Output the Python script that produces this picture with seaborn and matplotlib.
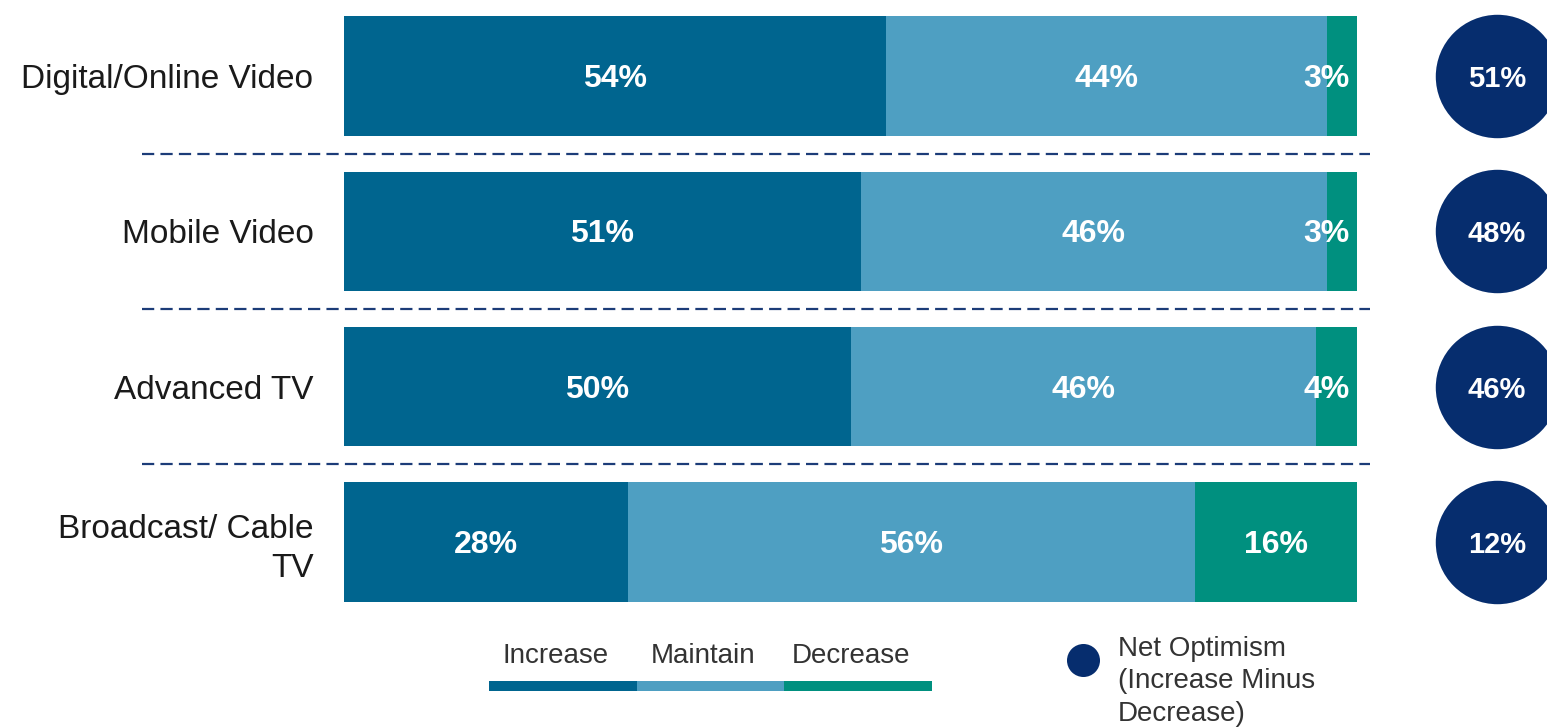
import numpy as np
import pandas as pd
import seaborn as sns
import matplotlib.pyplot as plt

sns.set_style("white")
plt.rcParams["font.family"] = ["Liberation Sans", "DejaVu Sans"]

# data
categories = ["Digital/Online Video", "Mobile Video", "Advanced TV", "Broadcast/ Cable\nTV"]
increase = [54, 51, 50, 28]
maintain = [44, 46, 46, 56]
decrease = [3, 3, 4, 16]
series_names = ["Increase", "Maintain", "Decrease"]
colors = ["#00658f", "#4e9fc2", "#00907f"]
circle_col = "#062d6e"
dash_col = "#1c3c78"

df = pd.DataFrame({"cat": categories, "Increase": increase,
                   "Maintain": maintain, "Decrease": decrease})
tot = df[series_names].sum(axis=1)
shares = df[series_names].div(tot, axis=0) * 100
cums = shares.cumsum(axis=1)
net = df["Increase"] - df["Decrease"]

fig = plt.figure(figsize=(15.47, 7.28), dpi=100)
ax = fig.add_axes([344 / 1547, 1 - 619.5 / 728, 1013 / 1547, 621 / 728])

# stacked bars: draw from the full total back to the first segment
for name, col in reversed(list(zip(series_names, colors))):
    sns.barplot(x=cums[name], y=df["cat"], orient="h", color=col,
                width=0.77, ax=ax, saturation=1, edgecolor="none", linewidth=0)

ax.set_xlim(0, 100)
ax.set_ylim(3.5, -0.5)
for s in ax.spines.values():
    s.set_visible(False)
ax.set_xticks([])
ax.set_xlabel("")
ax.set_ylabel("")
ax.tick_params(axis="y", length=0, pad=22, labelsize=24, labelcolor="#1a1a1a")
for t in ax.get_yticklabels():
    t.set_multialignment("right")
    t.set_linespacing(1.3)

# labels inside segments
for i in range(len(categories)):
    left = 0
    for name in series_names:
        w = shares.loc[i, name]
        v = df.loc[i, name]
        if v < 5:
            ax.text(left + w - 0.7, i + 0.02, f"{v}%", ha="right", va="center",
                    color="white", fontsize=23, fontweight="bold")
        else:
            ax.text(left + w / 2, i + 0.02, f"{v}%", ha="center", va="center",
                    color="white", fontsize=23, fontweight="bold")
        left += w

# dashed separators
for y in [0.5, 1.5, 2.5]:
    ax.plot([-19.9, 101.3], [y, y], color=dash_col, lw=1.6,
            ls=(0, (5.5, 2.8)), clip_on=False)

# net optimism circles
ypos = np.arange(len(categories))
ax.scatter([113.8] * len(categories), ypos, s=7900, color=circle_col,
           clip_on=False, zorder=5, linewidth=0)
for y, n in zip(ypos, net):
    ax.text(113.8, y + 0.02, f"{n}%", ha="center", va="center", color="white",
            fontsize=21, fontweight="bold", zorder=6, clip_on=False)

# legend
lax = fig.add_axes([489 / 1547, 1 - 691 / 728, 443 / 1547, 10 / 728])
lax.barh([0, 0, 0], [1, 1, 1], left=[0, 1, 2], height=1, color=colors,
         linewidth=0)
lax.set_xlim(0, 3)
lax.set_ylim(-0.5, 0.5)
lax.axis("off")
for k, name in enumerate(series_names):
    lax.text(k + 0.45, 3.0, name, ha="center", va="center",
             fontsize=20, color="#333333", clip_on=False)

lax.scatter([1083 / 1547], [1 - 660 / 728], s=565, color=circle_col,
            transform=fig.transFigure, clip_on=False, linewidth=0)
fig.text(1118 / 1547, 1 - 636 / 728, "Net Optimism\n(Increase Minus\nDecrease)",
         ha="left", va="top", fontsize=20, color="#333333", linespacing=1.32)

fig.savefig("out.png", dpi=100)
